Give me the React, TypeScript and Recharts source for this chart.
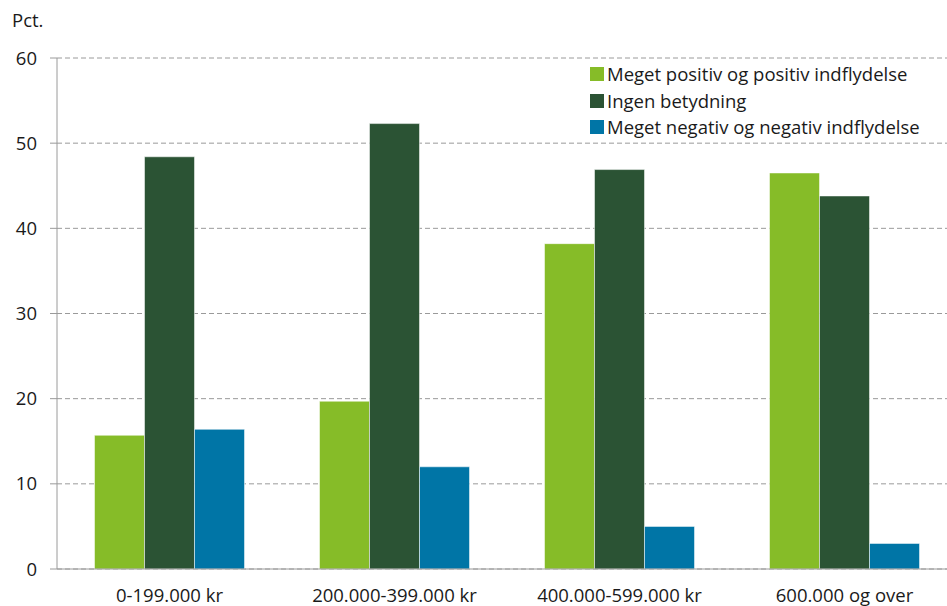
import React from 'react';
import { BarChart, Bar, XAxis, YAxis, CartesianGrid } from 'recharts';

const categories = ['0-199.000 kr', '200.000-399.000 kr', '400.000-599.000 kr', '600.000 og over'];
const positive = [15.7, 19.7, 38.2, 46.5];
const none = [48.4, 52.3, 46.9, 43.8];
const negative = [16.4, 12.0, 5.0, 3.0];
const yTicks = [0, 10, 20, 30, 40, 50, 60];
const boundaryTicks = [0, 1, 2, 3, 4];

const seriesNames = [
  'Meget positiv og positiv indflydelse',
  'Ingen betydning',
  'Meget negativ og negativ indflydelse',
];
const seriesKeys = ['positive', 'none', 'negative'];
const seriesColors = ['#86bc28', '#2b5334', '#0075a6'];

const data = categories.map((c, i) => ({
  category: c,
  positive: positive[i],
  none: none[i],
  negative: negative[i],
}));

const FONT = '"Open Sans", sans-serif';
const FS = 18.5;
const TEXT = '#1a1a1a';
const AXIS = '#9a9a9a';

export default function App() {
  return (
    <div
      style={{
        position: 'fixed',
        left: 0,
        top: 0,
        width: 947,
        height: 606,
        overflow: 'hidden',
        background: '#fff',
        fontFamily: FONT,
      }}
    >
      <div style={{ position: 'absolute', left: 12, top: 7, fontSize: FS, color: TEXT }}>Pct.</div>
      <BarChart
        width={960}
        height={606}
        data={data}
        margin={{ top: 58, right: 3, bottom: 0, left: 0 }}
        barCategoryGap="16.67%"
        barGap={0}
      >
        <CartesianGrid vertical={false} stroke={AXIS} strokeDasharray="5 3" />
        <XAxis
          xAxisId="b"
          type="number"
          domain={[0, 4]}
          ticks={boundaryTicks}
          height={1}
          axisLine={false}
          tick={false}
          tickLine={{ stroke: AXIS }}
          tickSize={7}
          allowDataOverflow
        />
        <XAxis
          xAxisId={0}
          dataKey="category"
          height={36}
          axisLine={{ stroke: AXIS }}
          tickLine={false}
          tickSize={0}
          tickMargin={20}
          interval={0}
          tick={{ fill: TEXT, fontSize: FS, fontFamily: FONT }}
        />
        <YAxis
          width={57}
          domain={[0, 60]}
          ticks={yTicks}
          axisLine={{ stroke: AXIS }}
          tickLine={{ stroke: AXIS }}
          tickSize={7}
          tickMargin={13}
          tick={{ fill: TEXT, fontSize: FS, fontFamily: FONT }}
        />
        {seriesKeys.map((k, i) => (
          <Bar
            key={k}
            dataKey={k}
            name={seriesNames[i]}
            fill={seriesColors[i]}
            stroke="#ffffff"
            strokeOpacity={0.5}
            strokeWidth={1}
            isAnimationActive={false}
          />
        ))}
      </BarChart>
      <div
        style={{
          position: 'absolute',
          left: 590,
          top: 61,
          background: '#fff',
          fontSize: FS,
          color: TEXT,
          lineHeight: '26.5px',
        }}
      >
        {seriesNames.map((n, i) => (
          <div key={n} style={{ display: 'flex', alignItems: 'center', whiteSpace: 'nowrap' }}>
            <span
              style={{
                display: 'inline-block',
                width: 14,
                height: 14,
                background: seriesColors[i],
                marginRight: 3,
              }}
            />
            <span>{n}</span>
          </div>
        ))}
      </div>
    </div>
  );
}
